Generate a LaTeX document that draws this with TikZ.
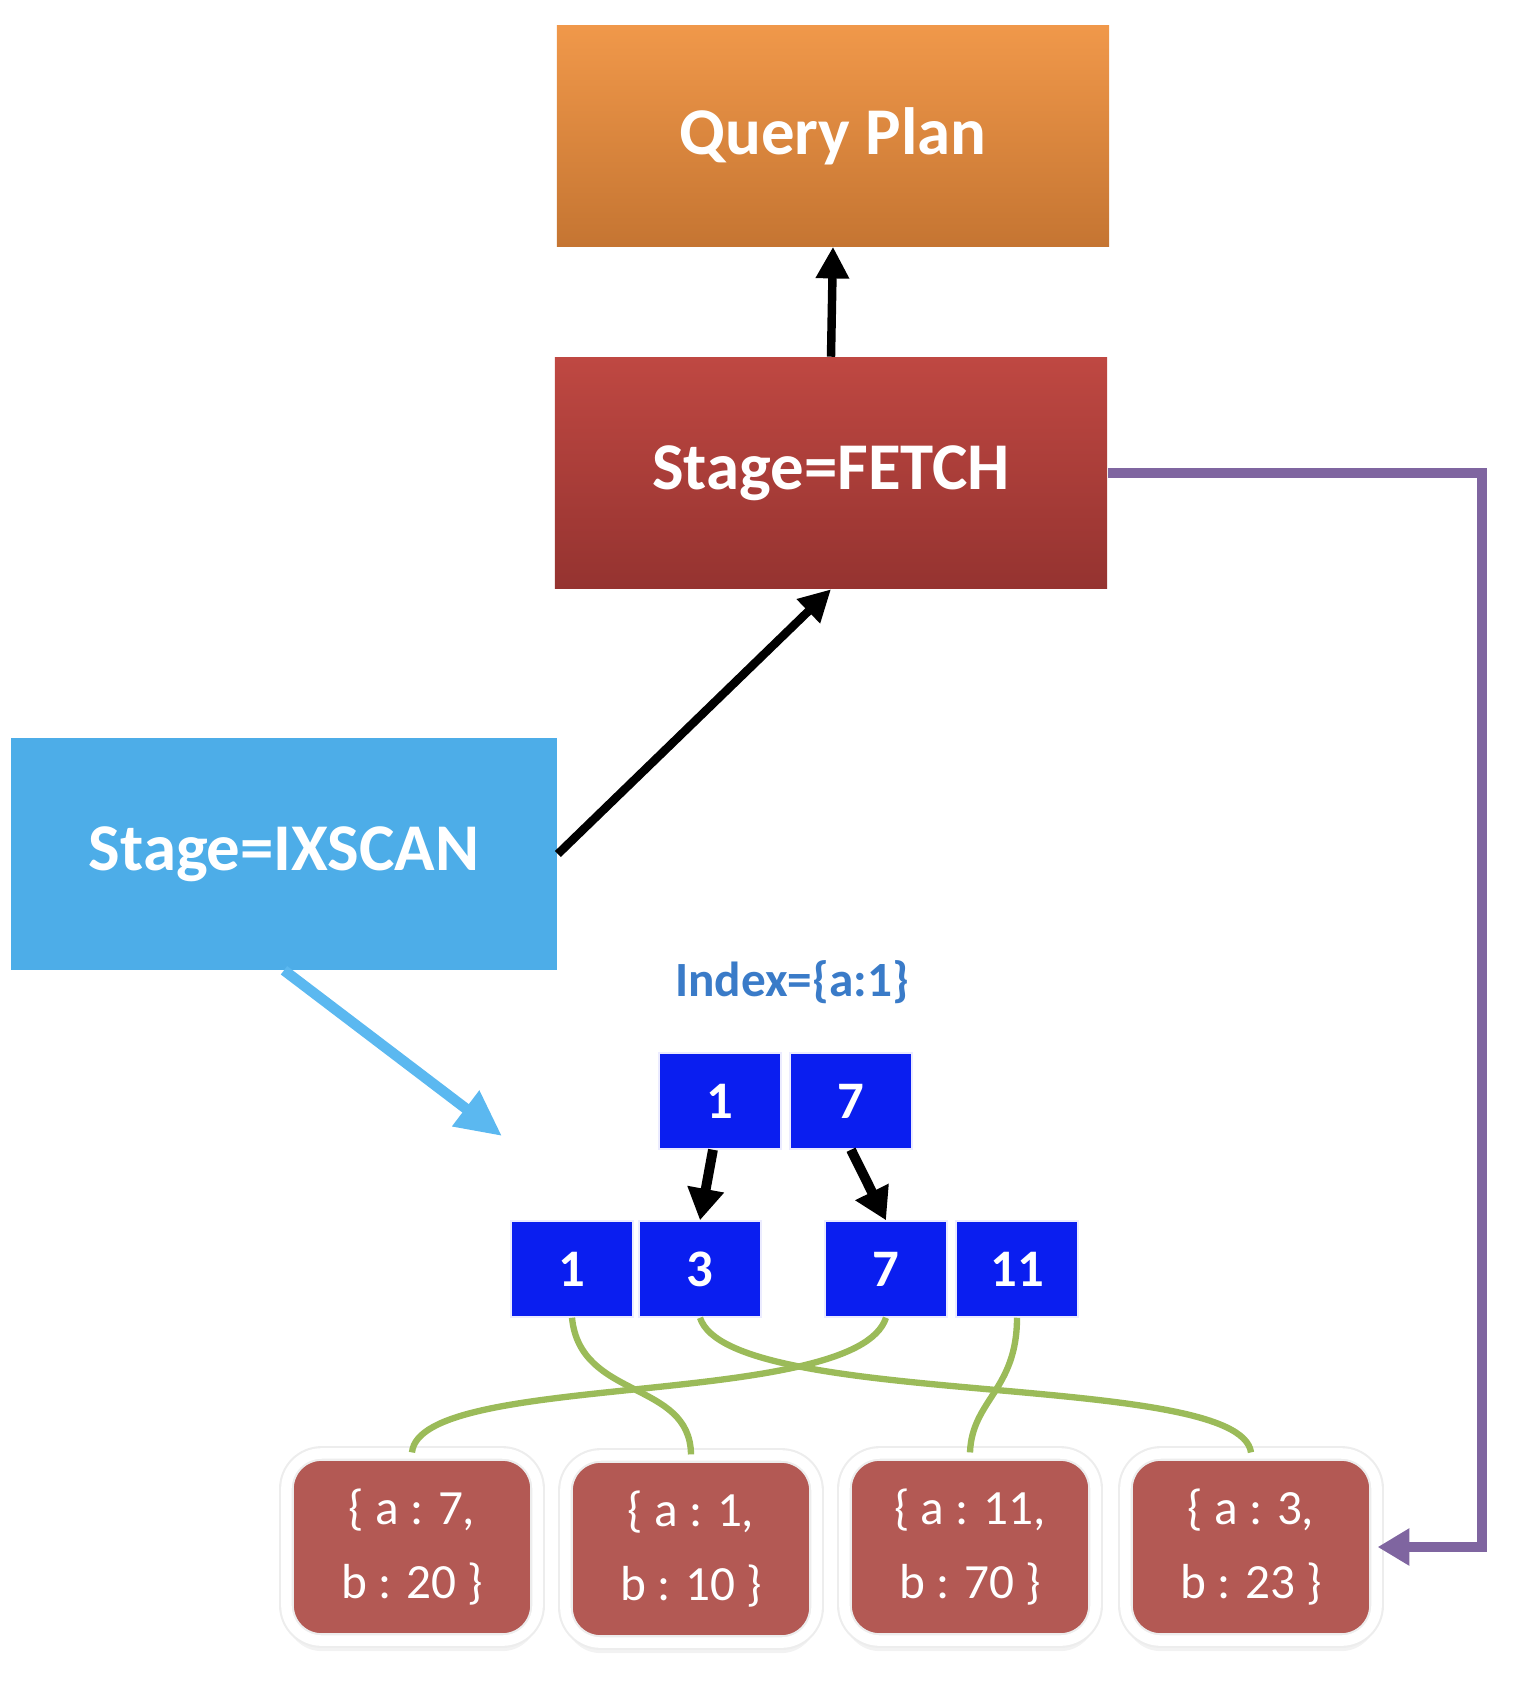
\documentclass[tikz,border=0pt]{standalone}
\usepackage{fontspec}
\setmainfont{Carlito}
\usetikzlibrary{arrows.meta,shadows}

\definecolor{planTop}{HTML}{F0984A}
\definecolor{planBot}{HTML}{C57532}
\definecolor{fetchTop}{HTML}{BF4842}
\definecolor{fetchBot}{HTML}{953330}
\definecolor{scanblue}{HTML}{4DADE8}
\definecolor{keyblue}{HTML}{0A1EF0}
\definecolor{docred}{HTML}{B35954}
\definecolor{linkgreen}{HTML}{9BBB59}
\definecolor{backpurple}{HTML}{7F65A0}
\definecolor{pointblue}{HTML}{5BB8F0}
\definecolor{indexblue}{HTML}{3A7BC8}

\begin{document}
\begin{tikzpicture}[x=0.01cm,y=-0.01cm,
    stagebox/.style={minimum width=5.52cm,minimum height=2.2cm,text=white,
      font=\fontsize{19}{22}\selectfont\bfseries},
    keybox/.style={fill=keyblue,draw=blue!8,minimum width=1.22cm,minimum height=0.96cm,
      text=white,font=\fontsize{15}{18}\selectfont\bfseries},
    docbox/.style={fill=docred,draw=black!7,double=white,double distance=3pt,line width=0.6pt,
      rounded corners=10pt,minimum width=2.51cm,minimum height=1.87cm,align=center,text=white,
      font=\fontsize{14}{21}\selectfont,
      drop shadow={opacity=0.1,shadow xshift=0pt,shadow yshift=-3pt}},
    bigarrow/.style={line width=2.4pt,-{Triangle[length=9pt,width=9pt]}},
    tree/.style={line width=2.8pt,-{Triangle[length=9pt,width=10pt]}},
    link/.style={draw=linkgreen,line width=1.8pt}]
  \useasboundingbox (0,0) rectangle (1530,1684);

  \node[stagebox,top color=planTop,bottom color=planBot] (plan) at (833,136) {Query Plan};
  \node[stagebox,minimum height=2.31cm,top color=fetchTop,bottom color=fetchBot] (fetch) at (831,473) {Stage=FETCH};
  \node[stagebox,minimum width=5.46cm,minimum height=2.31cm,fill=scanblue] (scan) at (284,854) {Stage=IXSCAN};

  \node[text=indexblue,font=\fontsize{14}{16}\selectfont\bfseries] (index) at (792,982) {Index=\{a:1\}};

  % index keys
  \node[keybox] (k1) at (720,1101) {1};
  \node[keybox] (k7) at (851,1101) {7};
  \node[keybox] (b1) at (572,1269) {1};
  \node[keybox] (b3) at (700,1269) {3};
  \node[keybox] (b7) at (886,1269) {7};
  \node[keybox] (b11) at (1017,1269) {11};

  % documents
  \node[docbox] (d1) at (412,1547) {\{ a : 7,\\ b : 20 \}};
  \node[docbox] (d2) at (691,1549) {\{ a : 1,\\ b : 10 \}};
  \node[docbox] (d3) at (970,1547) {\{ a : 11,\\ b : 70 \}};
  \node[docbox] (d4) at (1251,1547) {\{ a : 3,\\ b : 23 \}};

  \draw[bigarrow] (fetch.north) -- (plan.south);
  \draw[bigarrow] (scan.east) -- (fetch.south);

  \coordinate (aim) at (502,1136);
  \draw[pointblue,line width=3pt,-{Triangle[length=13pt,width=12pt]}] (scan.south) -- (aim);

  \draw[tree] ([xshift=-2pt]k1.south) -- (b3.north);
  \draw[tree] (k7.south) -- (b7.north);

  \draw[link] (b1.south) .. controls (580,1400) and (690,1380) .. (d2.north);
  \draw[link] (b3.south) .. controls (730,1410) and (1240,1370) .. (d4.north);
  \draw[link] (b7.south) .. controls (856,1410) and (420,1370) .. (d1.north);
  \draw[link] (b11.south) .. controls (1017,1390) and (972,1400) .. (d3.north);

  \coordinate (turn) at (1482,0);
  \draw[backpurple,line width=3pt,-{Triangle[length=9pt,width=10pt]}] (fetch.east) -- (fetch.east -| turn) |- (d4.east);
\end{tikzpicture}
\end{document}
